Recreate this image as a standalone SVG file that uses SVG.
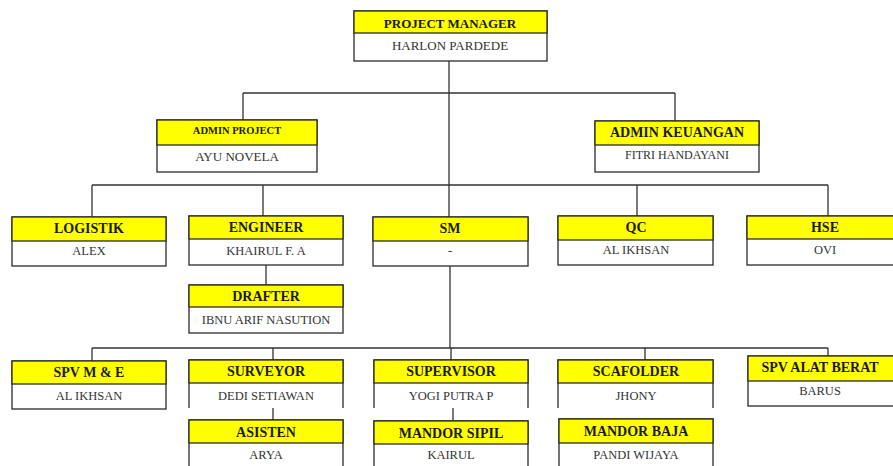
<svg xmlns="http://www.w3.org/2000/svg" width="893" height="466" viewBox="0 0 893 466">
<style>
.bg{fill:#ffffff}
.hd{fill:#ffff00;stroke:#2b2b2b;stroke-width:1.3}
.nm{fill:#ffffff;stroke:#2b2b2b;stroke-width:1.3}
.side{fill:none;stroke:#2b2b2b;stroke-width:1.3}
.ht{font-family:"Liberation Serif","Times New Roman",serif;font-weight:bold;font-size:14px;fill:#1a1a1a;text-anchor:middle}
.nt{font-family:"Liberation Serif","Times New Roman",serif;font-size:12.5px;fill:#333333;text-anchor:middle}
.cn{fill:none;stroke:#333333;stroke-width:1.3}
</style>
<rect class="bg" x="0" y="0" width="893" height="466"/>
<g id="connectors">
<path class="cn" d="M449 61V217"/>
<path class="cn" d="M243 93H675M243 93V120M675 93V121"/>
<path class="cn" d="M92 185H828M92 185V217M263 185V216M637 185V216M828 185V216"/>
<path class="cn" d="M266 265V285"/>
<path class="cn" d="M450 266V348"/>
<path class="cn" d="M92 348H828M92 348V361M273 348V360M451 348V360M645 348V360M828 348V356"/>
<path class="cn" d="M273 408V420M453 408V421"/>
</g>
<g id="pm">
<rect class="nm" x="354" y="11" width="193" height="50"/>
<rect class="hd" x="354" y="11" width="193" height="22"/>
<text class="ht" x="450" y="28" style="font-size:13px">PROJECT MANAGER</text>
<text class="nt" x="450" y="50" style="font-size:13px">HARLON PARDEDE</text>
</g>
<g id="admin-project">
<rect class="nm" x="157" y="120" width="160" height="52"/>
<rect class="hd" x="157" y="120" width="160" height="25"/>
<text class="ht" x="237" y="134" style="font-size:10.5px">ADMIN PROJECT</text>
<text class="nt" x="237" y="161" style="font-size:13px">AYU NOVELA</text>
</g>
<g id="admin-keuangan">
<rect class="nm" x="595" y="121" width="164" height="51"/>
<rect class="hd" x="595" y="121" width="164" height="24"/>
<text class="ht" x="677" y="137">ADMIN KEUANGAN</text>
<text class="nt" x="677" y="159" style="font-size:12px">FITRI HANDAYANI</text>
</g>
<g id="logistik">
<rect class="nm" x="12" y="217" width="154" height="49"/>
<rect class="hd" x="12" y="217" width="154" height="24"/>
<text class="ht" x="89" y="233">LOGISTIK</text>
<text class="nt" x="89" y="255">ALEX</text>
</g>
<g id="engineer">
<rect class="nm" x="189" y="216" width="154" height="49"/>
<rect class="hd" x="189" y="216" width="154" height="23"/>
<text class="ht" x="266" y="232">ENGINEER</text>
<text class="nt" x="266" y="255">KHAIRUL F. A</text>
</g>
<g id="drafter">
<rect class="nm" x="189" y="285" width="154" height="48"/>
<rect class="hd" x="189" y="285" width="154" height="22"/>
<text class="ht" x="266" y="301">DRAFTER</text>
<text class="nt" x="266" y="324">IBNU ARIF NASUTION</text>
</g>
<g id="sm">
<rect class="nm" x="373" y="217" width="155" height="49"/>
<rect class="hd" x="373" y="217" width="155" height="24"/>
<text class="ht" x="450" y="233">SM</text>
<text class="nt" x="450" y="255">-</text>
</g>
<g id="qc">
<rect class="nm" x="558" y="216" width="155" height="49"/>
<rect class="hd" x="558" y="216" width="155" height="24"/>
<text class="ht" x="636" y="232">QC</text>
<text class="nt" x="636" y="254">AL IKHSAN</text>
</g>
<g id="hse">
<rect class="nm" x="747" y="216" width="155" height="49"/>
<rect class="hd" x="747" y="216" width="155" height="23"/>
<text class="ht" x="825" y="232">HSE</text>
<text class="nt" x="825" y="254">OVI</text>
</g>
<g id="spv-me">
<rect class="nm" x="12" y="361" width="154" height="48"/>
<rect class="hd" x="12" y="361" width="154" height="23"/>
<text class="ht" x="89" y="377">SPV M &amp; E</text>
<text class="nt" x="89" y="400">AL IKHSAN</text>
</g>
<g id="surveyor">
<path class="side" d="M189 408V360H343V408"/>
<rect class="hd" x="189" y="360" width="154" height="23"/>
<text class="ht" x="266" y="376">SURVEYOR</text>
<text class="nt" x="266" y="400">DEDI SETIAWAN</text>
</g>
<g id="asisten">
<path class="side" d="M189 470V420H343V470"/>
<rect class="hd" x="189" y="420" width="154" height="23"/>
<text class="ht" x="266" y="437">ASISTEN</text>
<text class="nt" x="266" y="459">ARYA</text>
</g>
<g id="supervisor">
<path class="side" d="M374 408V360H528V408"/>
<rect class="hd" x="374" y="360" width="154" height="23"/>
<text class="ht" x="451" y="376">SUPERVISOR</text>
<text class="nt" x="451" y="400">YOGI PUTRA P</text>
</g>
<g id="mandor-sipil">
<path class="side" d="M374 470V421H528V470"/>
<rect class="hd" x="374" y="421" width="154" height="23"/>
<text class="ht" x="451" y="438">MANDOR SIPIL</text>
<text class="nt" x="451" y="459">KAIRUL</text>
</g>
<g id="scafolder">
<path class="side" d="M558 408V360H713V408"/>
<rect class="hd" x="558" y="360" width="155" height="23"/>
<text class="ht" x="636" y="376">SCAFOLDER</text>
<text class="nt" x="636" y="400">JHONY</text>
</g>
<g id="mandor-baja">
<path class="side" d="M559 470V419H713V470"/>
<rect class="hd" x="559" y="419" width="154" height="24"/>
<text class="ht" x="636" y="436">MANDOR BAJA</text>
<text class="nt" x="636" y="459">PANDI WIJAYA</text>
</g>
<g id="spv-alat-berat">
<rect class="nm" x="748" y="356" width="155" height="50"/>
<rect class="hd" x="748" y="356" width="155" height="25"/>
<text class="ht" x="820" y="372">SPV ALAT BERAT</text>
<text class="nt" x="820" y="395">BARUS</text>
</g>
</svg>
